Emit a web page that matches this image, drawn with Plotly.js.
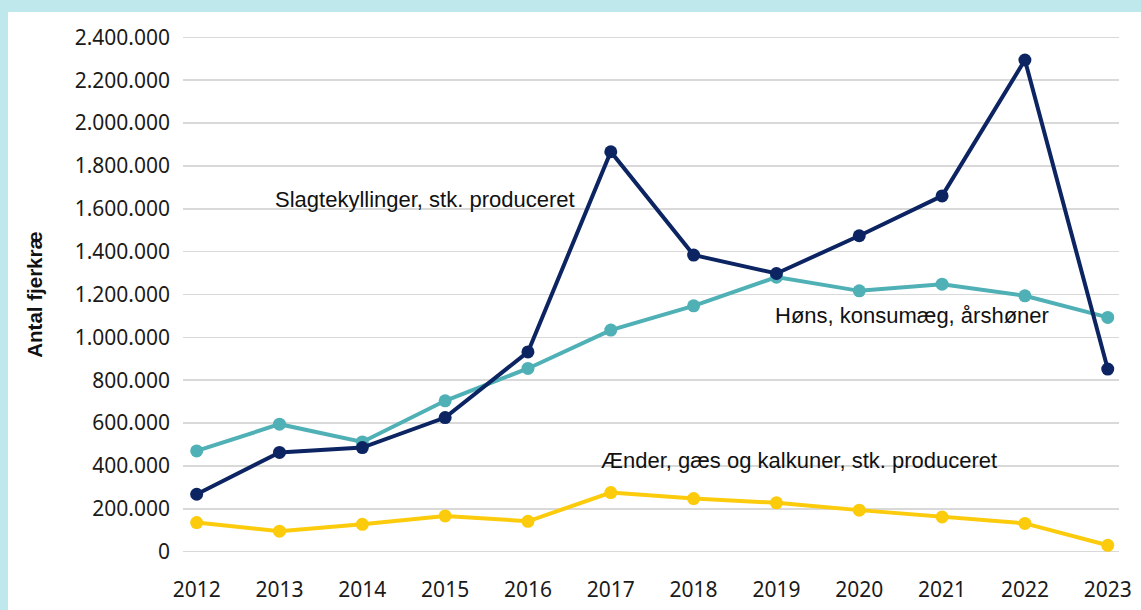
<!DOCTYPE html>
<html>
<head>
<meta charset="utf-8">
<script src="https://cdn.plot.ly/plotly-3.0.1.min.js"></script>
<style>
  html, body { margin: 0; padding: 0; background: #bfe8ed; width: 1141px; height: 610px; overflow: hidden; }
  #chart { position: absolute; left: 8px; top: 12px; width: 1133px; height: 598px; background: #ffffff; }
</style>
</head>
<body>
<div id="chart"></div>
<script>
const years = ['2012','2013','2014','2015','2016','2017','2018','2019','2020','2021','2022','2023'];
const slagtekyllinger = [268000, 463000, 486000, 626000, 932000, 1866000, 1384000, 1298000, 1474000, 1660000, 2294000, 852000];
const hons = [470000, 595000, 512000, 704000, 855000, 1034000, 1147000, 1281000, 1217000, 1248000, 1194000, 1093000];
const aender = [136000, 96000, 128000, 167000, 142000, 276000, 248000, 228000, 194000, 162000, 132000, 30000];
const yTicks = [0, 200000, 400000, 600000, 800000, 1000000, 1200000, 1400000, 1600000, 1800000, 2000000, 2200000, 2400000];
const yTickText = ['0','200.000','400.000','600.000','800.000','1.000.000','1.200.000','1.400.000','1.600.000','1.800.000','2.000.000','2.200.000','2.400.000'];
const labelSlag = 'Slagtekyllinger, stk. produceret';
const labelHons = 'Høns, konsumæg, årshøner';
const labelAender = 'Ænder, gæs og kalkuner, stk. produceret';
const yTitle = 'Antal fjerkræ';

const xIdx = years.map((_, i) => i);

function series(vals, color, name) {
  return {
    x: xIdx, y: vals, name: name, type: 'scatter', mode: 'lines+markers',
    line: { color: color, width: 4 },
    marker: { color: color, size: 13 },
    cliponaxis: false,
    hoverinfo: 'skip'
  };
}

const data = [
  series(aender, '#fbcb0c', labelAender),
  series(hons, '#4fb0b6', labelHons),
  series(slagtekyllinger, '#0c2562', labelSlag)
];

const annFont = { family: 'Liberation Sans, Arial, sans-serif', size: 22, color: '#111111' };

const layout = {
  width: 1133, height: 598,
  margin: { l: 175, r: 22, t: 21, b: 54 },
  paper_bgcolor: '#ffffff',
  plot_bgcolor: '#ffffff',
  showlegend: false,
  xaxis: {
    range: [-0.165, 11.136],
    tickmode: 'array', tickvals: xIdx, ticktext: years,
    showgrid: false, zeroline: false, showline: false, ticks: '',
    ticklabelstandoff: 19,
    tickfont: { family: 'Noto Sans, sans-serif', size: 21, color: '#1a1a1a' },
    fixedrange: true
  },
  yaxis: {
    range: [-20000, 2420000],
    tickmode: 'array', tickvals: yTicks, ticktext: yTickText,
    showgrid: true, gridcolor: '#d9d9d9', gridwidth: 1.5,
    zeroline: false, showline: false, ticks: '',
    ticklabelstandoff: 12,
    tickfont: { family: 'Noto Sans, sans-serif', size: 21, color: '#1a1a1a' },
    title: { text: yTitle, font: { family: 'Liberation Sans, Arial, sans-serif', size: 20.5, color: '#111111', weight: 'bold' }, standoff: 26 },
    fixedrange: true
  },
  annotations: [
    { x: 0.92, y: 1645000, xref: 'x', yref: 'y', text: labelSlag, showarrow: false, xanchor: 'left', yanchor: 'middle', font: annFont },
    { x: 6.96, y: 1104000, xref: 'x', yref: 'y', text: labelHons, showarrow: false, xanchor: 'left', yanchor: 'middle', font: annFont },
    { x: 4.86, y: 427000, xref: 'x', yref: 'y', text: labelAender, showarrow: false, xanchor: 'left', yanchor: 'middle', font: annFont }
  ]
};

Plotly.newPlot('chart', data, layout, { staticPlot: true, displayModeBar: false });
</script>
</body>
</html>
